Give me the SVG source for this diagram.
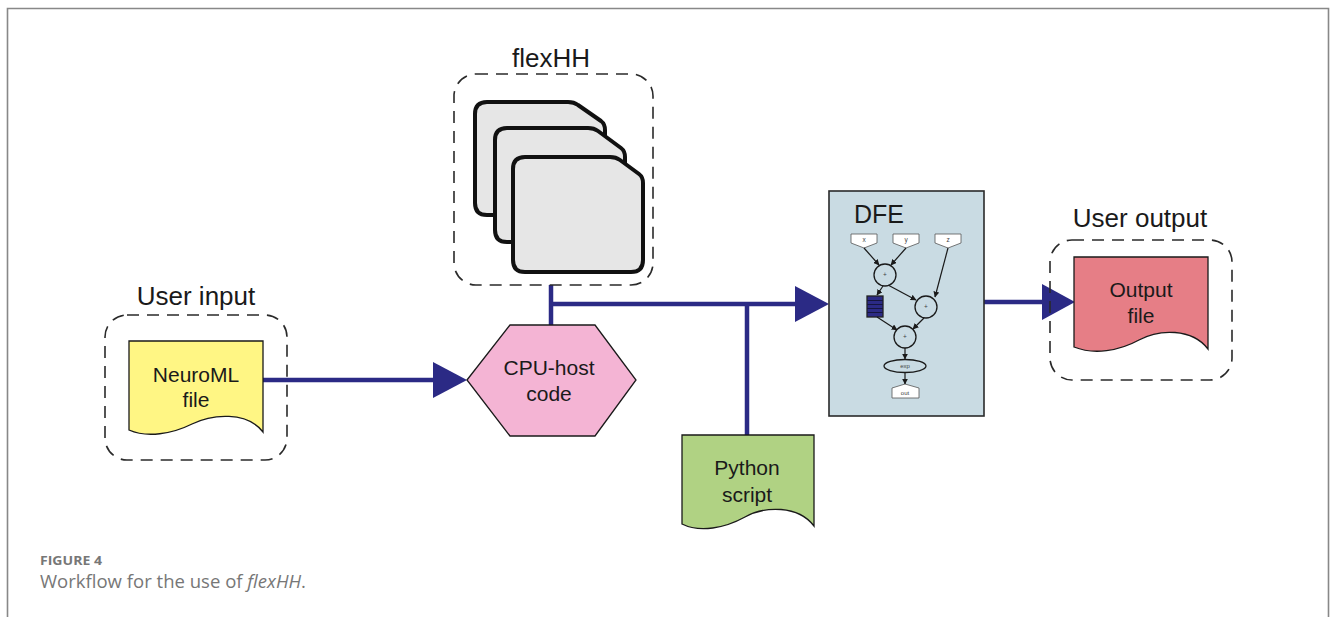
<svg xmlns="http://www.w3.org/2000/svg" width="1332" height="617" viewBox="0 0 1332 617">
<style>
.t{font-family:"Liberation Sans","DejaVu Sans",sans-serif;fill:#1a1a1a;text-anchor:middle}
.lbl{font-size:26px}
.nd{font-size:21px}
.dash{fill:none;stroke:#2a2a2a;stroke-width:1.6;stroke-dasharray:12 8}
.doc{stroke:#1a1a1a;stroke-width:1.3}
.card{fill:#e6e6e6;stroke:#111;stroke-width:4;stroke-linejoin:round}
.conn{stroke:#2b2a85;stroke-width:4.5;fill:none}
.head{fill:#2b2a85}
.g{stroke:#1a1a1a;stroke-width:1.3;fill:none}
.s{font-family:"Liberation Sans",sans-serif;font-size:6.5px;fill:#444;text-anchor:middle}
.cap{font-family:"Open Sans","Liberation Sans",sans-serif;fill:#777}
</style>
<defs>
<marker id="sa" viewBox="0 0 10 10" refX="9" refY="5" markerWidth="6" markerHeight="6" markerUnits="userSpaceOnUse" orient="auto">
<path d="M0,0 L10,5 L0,10 Z" fill="#1a1a1a"/>
</marker>
</defs>
<rect width="1332" height="617" fill="#fff"/>
<path d="M7.5,617 V8.5 H1328.5 V617" fill="none" stroke="#888" stroke-width="1.6"/>

<g id="connectors">
<path class="conn" d="M263,380 H436"/>
<polygon class="head" points="433,362 467,380 433,398"/>
<path class="conn" d="M551,285 V325"/>
<path class="conn" d="M549,304 H798"/>
<polygon class="head" points="795,286 829,304 795,322"/>
<path class="conn" d="M747,435 V302"/>
<path class="conn" d="M984,302 H1045"/>
<polygon class="head" points="1042,284 1075,302 1042,320"/>
</g>

<g id="user-input">
<text class="t lbl" x="196" y="305">User input</text>
<rect class="dash" x="105" y="315" width="182" height="145" rx="22"/>
</g>
<g id="neuroml-file">
<path class="doc" fill="#fff684" d="M129,341 H263 V432 C247,411 212,414 192,424 C172,434 147,438 129,430 Z"/>
<text class="t nd" x="196" y="382">NeuroML</text>
<text class="t nd" x="196" y="407">file</text>
</g>

<g id="flexhh">
<text class="t lbl" x="551" y="67">flexHH</text>
<rect class="dash" x="454" y="74" width="199" height="211" rx="22"/>
<path class="card" d="M487,102 H568 Q574,102 578,105 L601,121 Q605,124 605,130 V203 Q605,215 593,215 H487 Q475,215 475,203 V114 Q475,102 487,102 Z"/>
<path class="card" d="M507,128 H588 Q594,128 598,131 L621,148 Q625,151 625,157 V230 Q625,242 613,242 H507 Q495,242 495,230 V140 Q495,128 507,128 Z"/>
<path class="card" d="M525,157 H610 Q616,157 620,160 L639,174 Q643,177 643,183 V260 Q643,272 631,272 H525 Q513,272 513,260 V169 Q513,157 525,157 Z"/>
</g>

<g id="cpu-host">
<polygon points="467,380 510,325 595,325 636,380 595,436 510,436" fill="#f4b4d4" stroke="#1a1a1a" stroke-width="1.3"/>
<text class="t nd" x="549" y="375">CPU-host</text>
<text class="t nd" x="549" y="401">code</text>
</g>

<g id="python-script">
<path class="doc" fill="#b0d283" d="M682,435 H814 V526 C798,505 765,506 745,517 C725,528 700,533 682,524 Z"/>
<text class="t nd" x="747" y="475">Python</text>
<text class="t nd" x="747" y="502">script</text>
</g>

<g id="dfe">
<rect x="829" y="191" width="155" height="225" fill="#c9dbe3" stroke="#2a2a2a" stroke-width="1.6"/>
<text class="t" x="879" y="223" style="font-size:25px">DFE</text>
<polygon points="851,234 877,234 877,243 864,248 851,243" fill="#fff" stroke="#555" stroke-width="0.8"/>
<polygon points="893,234 919,234 919,243 906,248 893,243" fill="#fff" stroke="#555" stroke-width="0.8"/>
<polygon points="935,234 961,234 961,243 948,248 935,243" fill="#fff" stroke="#555" stroke-width="0.8"/>
<text class="s" x="864" y="242">x</text>
<text class="s" x="906" y="242">y</text>
<text class="s" x="948" y="242">z</text>
<circle class="g" cx="885" cy="275" r="11"/>
<circle class="g" cx="926" cy="307" r="11"/>
<circle class="g" cx="905" cy="337" r="11"/>
<text class="s" x="885" y="277">+</text>
<text class="s" x="926" y="309">+</text>
<text class="s" x="905" y="339">+</text>
<rect x="867" y="296" width="16" height="21" fill="#2b2a85" stroke="#222" stroke-width="1.3"/>
<path d="M867,300.5 H883 M867,304.5 H883 M867,308.5 H883 M867,312.5 H883" stroke="#15153f" stroke-width="1"/>
<ellipse class="g" cx="905" cy="366" rx="21" ry="6.5"/>
<text class="s" x="905" y="368" style="font-size:6px">exp</text>
<polygon points="892,388 905,384 919,388 919,398 892,398" fill="#fff" stroke="#555" stroke-width="0.8"/>
<text class="s" x="905" y="395" style="font-size:6px">out</text>
<g stroke="#1a1a1a" stroke-width="1.2" marker-end="url(#sa)">
<line x1="864" y1="248" x2="879" y2="265"/>
<line x1="906" y1="248" x2="891" y2="265"/>
<line x1="948" y1="248" x2="935" y2="297"/>
<line x1="883" y1="286" x2="877" y2="295"/>
<line x1="888" y1="285" x2="916" y2="300"/>
<line x1="877" y1="317" x2="897" y2="330"/>
<line x1="924" y1="318" x2="913" y2="329"/>
<line x1="905" y1="348" x2="905" y2="359"/>
<line x1="905" y1="372.5" x2="905" y2="384"/>
</g>
</g>

<g id="user-output">
<text class="t lbl" x="1140" y="227">User output</text>
<rect class="dash" x="1050" y="240" width="182" height="140" rx="22"/>
</g>
<g id="output-file">
<path class="doc" fill="#e67e86" d="M1074,257 H1208 V349 C1192,328 1159,329 1139,340 C1119,351 1094,355 1074,347 Z"/>
<text class="t nd" x="1141" y="297">Output</text>
<text class="t nd" x="1141" y="323">file</text>
</g>

<g id="caption">
<text class="cap" x="40" y="565" font-size="12" font-weight="700" fill="#6f6f6f" textLength="62" lengthAdjust="spacingAndGlyphs">FIGURE 4</text>
<text class="cap" x="40" y="588" font-size="17.5" textLength="266" lengthAdjust="spacingAndGlyphs">Workflow for the use of <tspan font-style="italic">flexHH</tspan>.</text>
</g>
</svg>
